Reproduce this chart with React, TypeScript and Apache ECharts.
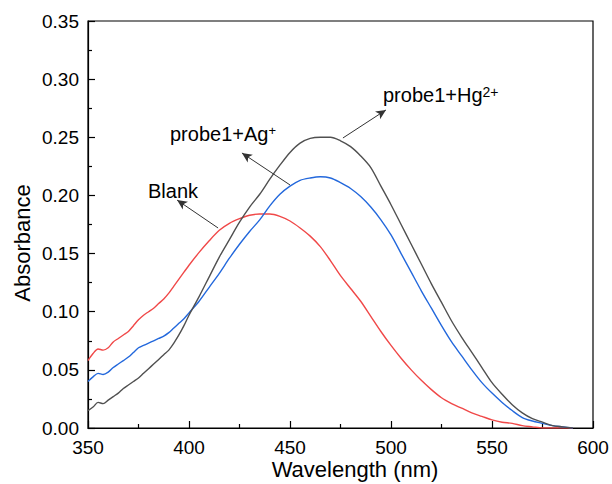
import React, { useEffect, useRef } from "react";
import * as echarts from "echarts";

const wavelengths = [
  350, 352.5, 355, 357.5, 360, 362.5, 365, 367.5, 370, 372.5, 375, 377.5, 380, 382.5, 385, 387.5, 390, 392.5, 395, 397.5, 400,
  405, 410, 415, 420, 425, 430, 435, 440, 445, 450, 455, 460, 465, 470, 475, 480, 485, 490, 495, 500,
  505, 510, 515, 520, 525, 530, 535, 540, 545, 550, 555, 560, 565, 570, 575, 580, 585, 590,
];

const blank = [
  0.058, 0.064, 0.068, 0.067, 0.069, 0.074, 0.077, 0.080, 0.083, 0.088, 0.093, 0.097, 0.100, 0.103, 0.107, 0.111, 0.116, 0.122, 0.128, 0.134, 0.140,
  0.151, 0.161, 0.170, 0.176, 0.180, 0.183, 0.184, 0.184, 0.182, 0.178, 0.172, 0.165, 0.156, 0.144, 0.131, 0.120, 0.109, 0.096, 0.083, 0.071,
  0.060, 0.050, 0.041, 0.033, 0.026, 0.021, 0.017, 0.013, 0.010, 0.007, 0.005, 0.004, 0.002, 0.001, 0.000, 0.000, 0.000, 0.000,
];

const probeAg = [
  0.040, 0.044, 0.047, 0.046, 0.048, 0.052, 0.055, 0.058, 0.061, 0.065, 0.069, 0.071, 0.073, 0.075, 0.077, 0.079, 0.082, 0.086, 0.090, 0.094, 0.099,
  0.109, 0.121, 0.133, 0.146, 0.158, 0.169, 0.179, 0.191, 0.201, 0.208, 0.213, 0.215, 0.216, 0.215, 0.211, 0.206, 0.199, 0.190, 0.179, 0.166,
  0.150, 0.134, 0.118, 0.103, 0.088, 0.074, 0.062, 0.050, 0.039, 0.030, 0.022, 0.015, 0.009, 0.006, 0.004, 0.002, 0.001, 0.000,
];

const probeHg = [
  0.015, 0.018, 0.022, 0.021, 0.024, 0.027, 0.030, 0.034, 0.037, 0.040, 0.043, 0.047, 0.051, 0.055, 0.059, 0.063, 0.067, 0.073, 0.080, 0.088, 0.097,
  0.113, 0.130, 0.147, 0.162, 0.177, 0.190, 0.201, 0.214, 0.226, 0.237, 0.245, 0.249, 0.250, 0.250, 0.247, 0.242, 0.234, 0.224, 0.208, 0.192,
  0.175, 0.158, 0.141, 0.124, 0.108, 0.092, 0.078, 0.065, 0.052, 0.039, 0.029, 0.020, 0.013, 0.008, 0.005, 0.002, 0.001, 0.000,
];

// annotation arrows in data coordinates: [fromX, fromY, toX, toY]
const arrows = [
  [414.4, 0.172, 394.1, 0.196],
  [450.0, 0.209, 426.2, 0.2365],
  [476.2, 0.2494, 497.5, 0.2735],
];

const FONT = '"Liberation Sans", Arial, sans-serif';

export default function App() {
  const ref = useRef<HTMLDivElement>(null);
  useEffect(() => {
    if (!ref.current) return;
    const chart = echarts.init(ref.current, null, { renderer: "svg" });
    const pairs = (ys: number[]) => wavelengths.map((x, i) => [x, ys[i]]);
    chart.setOption({
      animation: false,
      backgroundColor: "#fff",
      grid: { left: 88, right: 19, top: 21, bottom: 56, show: true, borderColor: "#000", borderWidth: 1.2, backgroundColor: "transparent" },
      xAxis: {
        type: "value",
        min: 350,
        max: 600,
        interval: 50,
        axisLine: { show: true, lineStyle: { color: "#000", width: 1.2 } },
        axisTick: { show: true, inside: true, length: 7, lineStyle: { color: "#000", width: 1.2 } },
        minorTick: { show: true, splitNumber: 2, length: 4, lineStyle: { color: "#000", width: 1.2 } },
        splitLine: { show: false },
        axisLabel: { color: "#000", fontSize: 19, lineHeight: 15, fontFamily: FONT, margin: 12 },
      },
      yAxis: {
        type: "value",
        min: 0,
        max: 0.35,
        interval: 0.05,
        axisLine: { show: true, lineStyle: { color: "#000", width: 1.2 } },
        axisTick: { show: true, inside: true, length: 7, lineStyle: { color: "#000", width: 1.2 } },
        minorTick: { show: true, splitNumber: 2, length: 4, lineStyle: { color: "#000", width: 1.2 } },
        splitLine: { show: false },
        axisLabel: { color: "#000", fontSize: 19, fontFamily: FONT, margin: 9, formatter: (v: number) => v.toFixed(2) },
      },
      series: [
        { type: "line", name: "Blank", data: pairs(blank), smooth: 0.3, showSymbol: false, lineStyle: { color: "#f04848", width: 1.4 }, itemStyle: { color: "#f04848" } },
        { type: "line", name: "probe1+Ag+", data: pairs(probeAg), smooth: 0.3, showSymbol: false, lineStyle: { color: "#2368dc", width: 1.4 }, itemStyle: { color: "#2368dc" } },
        {
          type: "line",
          name: "probe1+Hg2+",
          data: pairs(probeHg),
          smooth: 0.3,
          showSymbol: false,
          lineStyle: { color: "#505050", width: 1.4 },
          itemStyle: { color: "#505050" },
          markLine: {
            silent: true,
            symbol: ["none", "arrow"],
            symbolSize: [7, 10],
            label: { show: false },
            lineStyle: { color: "#333", width: 1, type: "solid" },
            data: arrows.map((a) => [{ coord: [a[0], a[1]] }, { coord: [a[2], a[3]] }]),
          },
        },
      ],
      graphic: [
        {
          type: "text",
          x: 22,
          y: 243,
          rotation: Math.PI / 2,
          style: { text: "Absorbance", fontSize: 22, fontFamily: FONT, fill: "#000", align: "center", verticalAlign: "middle" },
        },
        {
          type: "text",
          x: 355,
          y: 469,
          style: { text: "Wavelength (nm)", fontSize: 22, lineHeight: 17, fontFamily: FONT, fill: "#000", align: "center", verticalAlign: "middle" },
        },
        {
          type: "text",
          x: 148,
          y: 191,
          style: { text: "Blank", fontSize: 20, fontFamily: FONT, fill: "#000", align: "left", verticalAlign: "middle" },
        },
        {
          type: "text",
          x: 170,
          y: 134,
          style: {
            text: "{m|probe1+Ag}{s|+}",
            fill: "#000",
            align: "left",
            verticalAlign: "middle",
            rich: {
              m: { fontSize: 20, fontFamily: FONT, fill: "#000" },
              s: { fontSize: 13, fontFamily: FONT, fill: "#000", verticalAlign: "top" },
            },
          },
        },
        {
          type: "text",
          x: 383,
          y: 95,
          style: {
            text: "{m|probe1+Hg}{s|2+}",
            fill: "#000",
            align: "left",
            verticalAlign: "middle",
            rich: {
              m: { fontSize: 20, fontFamily: FONT, fill: "#000" },
              s: { fontSize: 14, fontFamily: FONT, fill: "#000", verticalAlign: "top" },
            },
          },
        },
      ],
    });
    return () => chart.dispose();
  }, []);
  return <div ref={ref} style={{ width: 612, height: 484, position: "absolute", left: 0, top: 0 }} />;
}
